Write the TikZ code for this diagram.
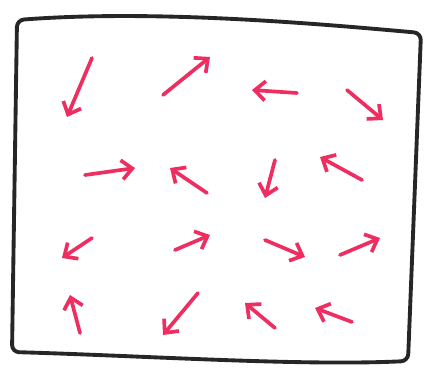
\documentclass[tikz,border=0pt]{standalone}
\usepackage{xcolor}
\usetikzlibrary{arrows.meta}

\definecolor{inkred}{RGB}{238,46,96}

\begin{document}
\begin{tikzpicture}[
  x=0.02cm, y=-0.02cm,
  frame/.style={draw=black!85, line width=2.2pt, rounded corners=4pt, line join=round},
  vec/.style={draw=inkred, line width=2.1pt, line cap=round,
    -{Straight Barb[length=6pt, width=11pt, line width=2.1pt]}}
]
  \useasboundingbox (0,0) rectangle (426,376);

  % hand drawn frame
  \draw[frame] (17,20) .. controls (150,10) and (300,22) .. (421,33)
    -- (408,361) .. controls (300,366) and (150,356) .. (12,352) -- cycle;

  % the field of vectors: tail x/y, head x/y
  \foreach \tx/\ty/\hx/\hy in {
      92/58/67/117, 163/95/210/57, 297/93/252/90, 347/90/383/120,
      85/175/135/168, 207/193/170/168, 275/160/265/198, 362/180/320/157,
      92/238/62/258, 175/250/210/235, 265/240/305/257, 340/255/380/238,
      80/333/70/295, 198/293/163/335, 275/328/245/303, 352/322/315/308}
    \draw[vec] (\tx,\ty) -- (\hx,\hy);
\end{tikzpicture}
\end{document}
